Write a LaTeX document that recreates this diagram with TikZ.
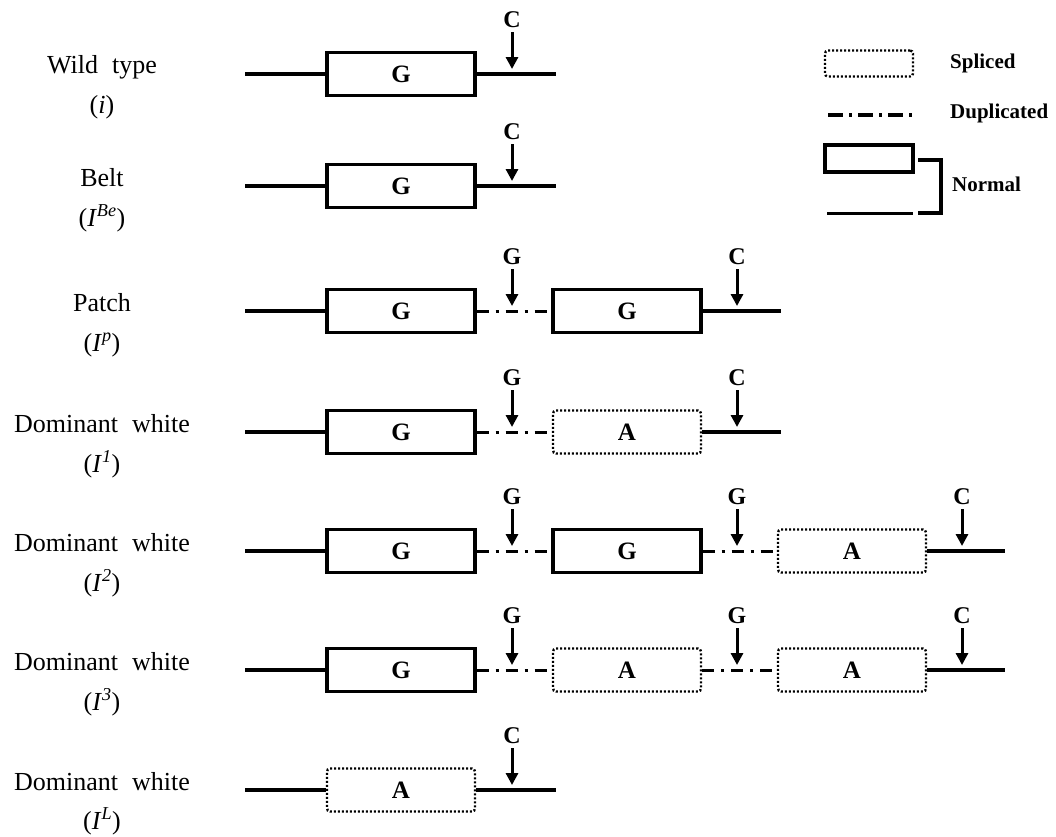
\documentclass[tikz,border=0pt]{standalone}
\usepackage{fontspec}
\setmainfont{Liberation Serif}
\usetikzlibrary{arrows.meta}
\begin{document}
\begin{tikzpicture}[x=1pt,y=-1pt,
  bb/.style={line width=3.2pt},
  dup/.style={line width=3pt, dash pattern=on 12pt off 7pt on 3pt off 7pt},
  normalbox/.style={draw, line width=3.2pt, minimum width=148pt, minimum height=43pt, inner sep=0pt, font=\bfseries\fontsize{25}{25}\selectfont},
  splicebox/.style={draw, line width=2.4pt, dash pattern=on 2pt off 2pt, rounded corners=3pt, minimum width=148pt, minimum height=43pt, inner sep=0pt, font=\bfseries\fontsize{25}{25}\selectfont},
  site/.style={font=\bfseries\fontsize{24}{24}\selectfont, inner sep=0pt, anchor=base},
  arr/.style={line width=3pt, -{Triangle[length=12pt,width=12pt]}},
  lbl/.style={font=\fontsize{26}{26}\selectfont, inner sep=0pt, anchor=base},
  leg/.style={font=\bfseries\fontsize{21}{21}\selectfont, inner sep=0pt, anchor=west}
]
\useasboundingbox (0,0) rectangle (1056,836);

% ---------- left labels ----------
\node[lbl] (l1a) at (102,73) {Wild\hspace{14pt}type};
\node[lbl] (l1b) at (102,113) {(\textit{i})};
\node[lbl] (l2a) at (102,186) {Belt};
\node[lbl] (l2b) at (102,226) {(\textit{I}\textsuperscript{\textit{Be}})};
\node[lbl] (l3a) at (102,311) {Patch};
\node[lbl] (l3b) at (102,351) {(\textit{I}\textsuperscript{\textit{p}})};
\node[lbl] (l4a) at (102,432) {Dominant\hspace{14pt}white};
\node[lbl] (l4b) at (102,472) {(\textit{I}\textsuperscript{\textit{1}})};
\node[lbl] (l5a) at (102,551) {Dominant\hspace{14pt}white};
\node[lbl] (l5b) at (102,591) {(\textit{I}\textsuperscript{\textit{2}})};
\node[lbl] (l6a) at (102,670) {Dominant\hspace{14pt}white};
\node[lbl] (l6b) at (102,710) {(\textit{I}\textsuperscript{\textit{3}})};
\node[lbl] (l7a) at (102,790) {Dominant\hspace{14pt}white};
\node[lbl] (l7b) at (102,829) {(\textit{I}\textsuperscript{\textit{L}})};

% ---------- row 1 ----------
\coordinate (a1s) at (245,74);
\node[normalbox] (a1g) at (401,74) {G};
\coordinate (a1e) at (556,74);
\draw[bb] (a1s) -- (a1g.west);
\draw[bb] (a1g.east) -- (a1e);
\node[site] (a1c) at (512,27) {C};
\coordinate (a1ct) at (512,69);
\draw[arr] ([yshift=-5pt]a1c.south) -- (a1ct);

% ---------- row 2 ----------
\coordinate (a2s) at (245,186);
\node[normalbox] (a2g) at (401,186) {G};
\coordinate (a2e) at (556,186);
\draw[bb] (a2s) -- (a2g.west);
\draw[bb] (a2g.east) -- (a2e);
\node[site] (a2c) at (512,139) {C};
\coordinate (a2ct) at (512,181);
\draw[arr] ([yshift=-5pt]a2c.south) -- (a2ct);

% ---------- row 3 ----------
\coordinate (a3s) at (245,311);
\node[normalbox] (a3g) at (401,311) {G};
\node[normalbox] (a3h) at (627,311) {G};
\coordinate (a3e) at (781,311);
\draw[bb] (a3s) -- (a3g.west);
\draw[dup] (a3g.east) -- (a3h.west);
\draw[bb] (a3h.east) -- (a3e);
\node[site] (a3x) at (512,264) {G};
\coordinate (a3xt) at (512,306);
\draw[arr] ([yshift=-5pt]a3x.south) -- (a3xt);
\node[site] (a3c) at (737,264) {C};
\coordinate (a3ct) at (737,306);
\draw[arr] ([yshift=-5pt]a3c.south) -- (a3ct);

% ---------- row 4 ----------
\coordinate (a4s) at (245,432);
\node[normalbox] (a4g) at (401,432) {G};
\node[splicebox] (a4a) at (627,432) {A};
\coordinate (a4e) at (781,432);
\draw[bb] (a4s) -- (a4g.west);
\draw[dup] (a4g.east) -- (a4a.west);
\draw[bb] (a4a.east) -- (a4e);
\node[site] (a4x) at (512,385) {G};
\coordinate (a4xt) at (512,427);
\draw[arr] ([yshift=-5pt]a4x.south) -- (a4xt);
\node[site] (a4c) at (737,385) {C};
\coordinate (a4ct) at (737,427);
\draw[arr] ([yshift=-5pt]a4c.south) -- (a4ct);

% ---------- row 5 ----------
\coordinate (a5s) at (245,551);
\node[normalbox] (a5g) at (401,551) {G};
\node[normalbox] (a5h) at (627,551) {G};
\node[splicebox] (a5a) at (852,551) {A};
\coordinate (a5e) at (1005,551);
\draw[bb] (a5s) -- (a5g.west);
\draw[dup] (a5g.east) -- (a5h.west);
\draw[dup] (a5h.east) -- (a5a.west);
\draw[bb] (a5a.east) -- (a5e);
\node[site] (a5x) at (512,504) {G};
\coordinate (a5xt) at (512,546);
\draw[arr] ([yshift=-5pt]a5x.south) -- (a5xt);
\node[site] (a5y) at (737,504) {G};
\coordinate (a5yt) at (737,546);
\draw[arr] ([yshift=-5pt]a5y.south) -- (a5yt);
\node[site] (a5c) at (962,504) {C};
\coordinate (a5ct) at (962,546);
\draw[arr] ([yshift=-5pt]a5c.south) -- (a5ct);

% ---------- row 6 ----------
\coordinate (a6s) at (245,670);
\node[normalbox] (a6g) at (401,670) {G};
\node[splicebox] (a6a) at (627,670) {A};
\node[splicebox] (a6b) at (852,670) {A};
\coordinate (a6e) at (1005,670);
\draw[bb] (a6s) -- (a6g.west);
\draw[dup] (a6g.east) -- (a6a.west);
\draw[dup] (a6a.east) -- (a6b.west);
\draw[bb] (a6b.east) -- (a6e);
\node[site] (a6x) at (512,623) {G};
\coordinate (a6xt) at (512,665);
\draw[arr] ([yshift=-5pt]a6x.south) -- (a6xt);
\node[site] (a6y) at (737,623) {G};
\coordinate (a6yt) at (737,665);
\draw[arr] ([yshift=-5pt]a6y.south) -- (a6yt);
\node[site] (a6c) at (962,623) {C};
\coordinate (a6ct) at (962,665);
\draw[arr] ([yshift=-5pt]a6c.south) -- (a6ct);

% ---------- row 7 ----------
\coordinate (a7s) at (245,790);
\node[splicebox] (a7a) at (401,790) {A};
\coordinate (a7e) at (556,790);
\draw[bb] (a7s) -- (a7a.west);
\draw[bb] (a7a.east) -- (a7e);
\node[site] (a7c) at (512,743) {C};
\coordinate (a7ct) at (512,785);
\draw[arr] ([yshift=-5pt]a7c.south) -- (a7ct);

% ---------- legend ----------
\node[draw, line width=2.4pt, dash pattern=on 2pt off 2pt, rounded corners=3pt, minimum width=88pt, minimum height=26pt, inner sep=0pt] (ks) at (869,63.5) {};
\node[leg] (kst) at (950,63.5) {Spliced};
\coordinate (kd1) at (828,115);
\coordinate (kd2) at (916,115);
\draw[line width=3.2pt, dash pattern=on 15pt off 6pt on 3pt off 6pt] (kd1) -- (kd2);
\node[leg] (kdt) at (950,113) {Duplicated};
\node[draw, line width=3.2pt, minimum width=88pt, minimum height=27pt, inner sep=0pt] (kn) at (869,158.5) {};
\coordinate (kl1) at (827,213);
\coordinate (kl2) at (913,213);
\draw[line width=3pt] (kl1) -- (kl2);
\coordinate (kb1) at (918,160);
\coordinate (kb2) at (918,213);
\draw[line width=3.2pt] (kb1) -- ++(23,0) |- (kb2);
\node[leg] (knt) at (952,184) {Normal};
\end{tikzpicture}
\end{document}
